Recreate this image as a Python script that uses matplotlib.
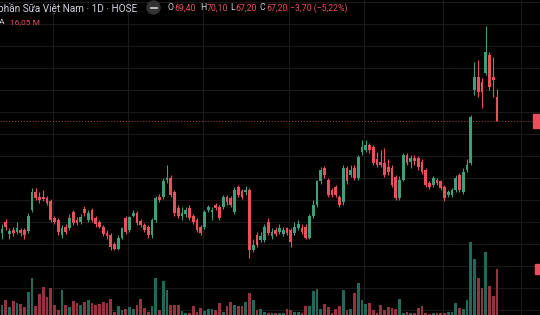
import numpy as np
import matplotlib.pyplot as plt
from matplotlib.patches import Ellipse, Rectangle
from matplotlib.lines import Line2D
from matplotlib.transforms import blended_transform_factory

# daily candles, Vinamilk (VNM) on HOSE
opens = [
    57.0, 58.0, 56.9, 57.3, 57.1, 57.3, 57.3, 57.2, 59.1, 60.7,
    60.3, 60.3, 60.2, 59.9, 58.4, 58.2, 56.8, 57.6, 57.5, 58.9,
    58.2, 58.0, 59.2, 58.2, 59.1, 58.4, 58.0, 57.6, 57.0, 56.8,
    56.0, 55.6, 56.6, 58.4, 57.3, 58.6, 58.8, 58.1, 57.7, 57.6,
    56.8, 58.2, 60.3, 60.3, 61.8, 62.0, 60.7, 59.3, 58.6, 58.7,
    59.3, 58.6, 58.2, 57.6, 57.6, 59.1, 58.9, 59.6, 59.4, 59.4,
    60.3, 60.2, 58.9, 61.2, 60.8, 60.7, 60.9, 55.5, 56.8, 56.4,
    56.4, 58.0, 56.7, 57.3, 57.1, 56.9, 57.5, 57.3, 57.0, 57.5,
    57.5, 57.6, 56.6, 58.6, 59.6, 61.7, 62.9, 61.8, 60.9, 61.2,
    60.3, 59.8, 62.9, 62.3, 62.9, 62.0, 64.4, 64.6, 65.0, 64.8,
    63.7, 63.5, 63.4, 63.0, 62.9, 62.1, 60.2, 61.8, 64.1, 63.5,
    63.8, 63.8, 63.5, 62.7, 61.6, 61.4, 61.8, 61.7, 61.2, 60.5,
    60.5, 60.9, 62.3, 60.7, 62.7, 63.4, 70.0, 71.2, 70.7, 71.6,
    73.2, 71.2, 69.4]
closes = [
    57.4, 57.6, 57.2, 57.0, 57.5, 57.0, 56.8, 58.6, 60.7, 60.2,
    60.0, 60.1, 59.7, 58.2, 58.0, 57.1, 57.5, 57.1, 58.4, 57.9,
    57.9, 58.5, 58.8, 58.8, 58.2, 57.8, 57.6, 56.9, 56.7, 55.7,
    55.6, 56.6, 57.5, 57.1, 58.5, 58.8, 57.9, 57.7, 57.3, 56.8,
    58.2, 60.2, 60.0, 61.7, 62.0, 60.5, 58.8, 58.6, 58.8, 59.1,
    58.4, 58.0, 57.3, 57.0, 58.9, 59.4, 59.1, 59.3, 58.4, 60.3,
    59.8, 59.6, 60.9, 60.5, 60.3, 60.9, 55.5, 55.9, 55.9, 56.7,
    57.6, 57.0, 57.1, 56.9, 57.5, 57.3, 57.0, 56.2, 57.6, 57.8,
    57.1, 56.6, 58.6, 59.6, 61.7, 62.7, 62.3, 60.5, 60.5, 60.5,
    59.6, 62.9, 61.7, 62.7, 62.0, 63.9, 64.8, 65.0, 64.6, 63.4,
    63.2, 63.2, 62.3, 62.6, 61.4, 60.2, 61.8, 64.1, 63.4, 63.8,
    63.6, 63.0, 62.6, 61.4, 61.2, 62.0, 61.6, 61.1, 60.2, 60.7,
    60.9, 62.0, 60.9, 62.6, 63.2, 67.6, 71.2, 69.8, 69.8, 73.5,
    70.3, 70.9, 67.2]
highs = [
    57.8, 58.3, 57.5, 57.6, 58.0, 57.5, 57.5, 58.8, 61.1, 61.1,
    60.7, 60.9, 60.4, 60.1, 58.6, 58.4, 57.7, 57.8, 58.7, 59.1,
    58.5, 58.7, 59.5, 59.1, 59.3, 58.6, 58.2, 57.7, 57.3, 57.0,
    56.2, 56.8, 57.6, 58.6, 58.6, 59.1, 59.0, 58.3, 57.9, 57.7,
    58.4, 60.4, 60.6, 62.0, 63.2, 62.3, 60.9, 59.6, 59.4, 59.4,
    59.6, 58.7, 58.4, 57.7, 59.1, 59.6, 59.4, 59.7, 59.6, 60.5,
    60.5, 60.4, 61.2, 61.4, 61.0, 61.3, 61.1, 56.5, 57.1, 57.1,
    57.8, 58.4, 57.5, 57.6, 57.8, 57.6, 57.6, 57.5, 58.0, 58.2,
    57.8, 57.8, 58.7, 60.0, 61.8, 63.0, 63.1, 62.0, 61.1, 61.4,
    60.5, 63.2, 63.1, 63.2, 63.2, 64.1, 65.5, 65.5, 65.2, 65.0,
    64.4, 64.6, 64.7, 63.7, 63.2, 62.3, 62.2, 64.3, 64.3, 64.1,
    64.1, 64.0, 63.7, 62.9, 61.7, 62.2, 62.0, 61.8, 61.4, 60.9,
    61.1, 62.3, 62.5, 62.9, 63.7, 67.7, 72.6, 72.7, 71.1, 75.8,
    73.5, 73.0, 70.1]
lows = [
    56.5, 57.3, 56.5, 56.7, 56.9, 56.7, 56.5, 57.0, 58.9, 60.0,
    59.7, 59.9, 59.6, 58.0, 57.8, 56.8, 56.6, 56.9, 57.3, 57.7,
    57.7, 57.8, 58.6, 58.0, 58.0, 57.6, 57.5, 56.7, 56.5, 55.5,
    55.5, 55.5, 56.5, 56.9, 57.1, 58.5, 57.7, 57.6, 57.1, 56.6,
    56.6, 58.0, 59.8, 60.1, 61.6, 60.3, 58.6, 58.4, 58.2, 58.5,
    58.2, 57.8, 57.1, 56.8, 57.4, 58.9, 58.2, 59.1, 58.2, 59.2,
    59.6, 59.4, 58.7, 60.3, 60.1, 60.5, 54.7, 55.3, 55.7, 56.2,
    56.2, 56.8, 56.5, 56.7, 56.9, 56.7, 56.8, 55.7, 56.8, 57.3,
    56.9, 56.5, 56.5, 58.4, 59.4, 61.5, 62.0, 60.3, 60.3, 60.3,
    59.4, 59.6, 61.5, 62.1, 61.8, 61.8, 64.1, 64.4, 64.3, 63.2,
    63.0, 63.0, 62.1, 62.3, 61.2, 60.0, 60.0, 61.7, 63.2, 62.9,
    63.2, 62.7, 62.4, 61.2, 61.0, 61.2, 61.4, 60.9, 59.9, 60.3,
    60.3, 60.7, 60.7, 60.6, 62.6, 63.2, 69.6, 69.4, 68.4, 71.4,
    70.0, 69.4, 67.2]
# volume, millions of shares
volumes = [
    3.5, 5.2, 2.8, 4.9, 4.2, 3.8, 2.8, 8.0, 12.9, 3.1,
    7.3, 9.8, 6.3, 9.4, 3.5, 1.7, 8.7, 3.5, 2.8, 4.9,
    4.2, 3.5, 4.5, 5.2, 4.2, 3.5, 3.8, 4.5, 4.2, 5.6,
    1.0, 3.1, 1.7, 2.1, 2.8, 2.1, 3.5, 5.6, 2.4, 1.0,
    3.1, 12.9, 1.7, 11.9, 8.7, 3.5, 3.5, 3.5, 1.4, 0.7,
    0.7, 3.1, 1.0, 2.4, 1.4, 2.1, 2.1, 1.7, 4.2, 1.0,
    3.1, 4.5, 3.5, 3.1, 3.1, 4.5, 7.7, 5.2, 1.7, 2.1,
    1.0, 0.7, 0.7, 0.7, 0.7, 0.7, 2.1, 1.7, 1.0, 1.0,
    0.7, 3.1, 3.1, 8.4, 9.1, 2.1, 3.8, 2.8, 0.7, 2.1,
    3.1, 8.7, 1.7, 2.1, 7.7, 11.2, 5.2, 3.8, 4.2, 1.7,
    0.7, 3.5, 1.7, 2.8, 2.4, 2.1, 5.6, 0.7, 1.0, 0.7,
    0.7, 2.4, 3.1, 0.7, 0.3, 0.7, 0.7, 0.7, 0.7, 1.0,
    1.0, 4.2, 2.4, 2.1, 5.2, 25.5, 19.5, 12.9, 9.4, 22.0,
    10.1, 6.6, 16.05]
month_starts = [14, 34, 54, 77, 97, 118, 139]

W, H = 540, 315
bg = '#000000'
grid_c = '#1b1b1b'
up_c, down_c = '#3f9f7b', '#ec4f5c'
up_vol, down_vol = '#21685a', '#96323f'
txt_c = '#d1d4dc'
fonts = ['Roboto', 'DejaVu Sans']

o = np.array(opens); c = np.array(closes)
hi = np.array(highs); lo = np.array(lows)
vol = np.array(volumes)
idx = np.arange(len(o))
is_up = c >= o

fig = plt.figure(figsize=(W / 100, H / 100), dpi=100, facecolor=bg)
axv = fig.add_axes([0, 0, 1, 1])
ax = fig.add_axes([0, 0, 1, 1], sharex=axv)
axv.set_facecolor(bg)
ax.patch.set_visible(False)
for a in (ax, axv):
    a.axis('off')

ax.set_xlim(-0.53, 143.47)
ax.set_ylim(49.56, 78.2)
axv.set_ylim(0, 110)

# grid sits behind volume
for p in range(50, 79, 2):
    axv.plot([-1, 145], [p, p], color=grid_c, lw=0.7, transform=ax.transData, zorder=0)
for m in month_starts:
    axv.axvline(m - 0.5, color=grid_c, lw=0.7, zorder=0)

axv.bar(idx, vol, width=0.78, color=np.where(is_up, up_vol, down_vol), linewidth=0, zorder=1)

cols = np.where(is_up, up_c, down_c)
ax.vlines(idx, lo, hi, colors=cols, lw=0.8, zorder=2)
body = np.maximum(np.abs(c - o), 0.08)
ax.bar(idx, body, bottom=np.minimum(o, c), width=0.74, color=cols, linewidth=0, zorder=3)

# last price line and right edge labels
ax.axhline(c[-1], color=down_c, lw=0.7, ls=(0, (1, 2)), alpha=0.8, zorder=1)
tr = blended_transform_factory(ax.transAxes, ax.transData)
ax.add_patch(Rectangle((0.987, c[-1] - 0.6), 0.02, 1.2, transform=tr, color=down_c, clip_on=False, zorder=4))
trv = blended_transform_factory(axv.transAxes, axv.transData)
axv.add_patch(Rectangle((0.99, vol[-1] - 1.9), 0.02, 3.8, transform=trv, color=down_c, clip_on=False, zorder=4))

def fx(x):
    return x / W

def fy(y):
    return 1 - y / H

fig.text(fx(-2), fy(8), 'phần Sữa Việt Nam · 1D · HOSE', color=txt_c, fontsize=7.2,
         va='center', ha='left', family=fonts)
fig.add_artist(Ellipse((fx(153.5), fy(7.5)), 13 / W, 13 / H, color='#333333', transform=fig.transFigure))
fig.add_artist(Line2D([fx(150.5), fx(156.5)], [fy(7.5), fy(7.5)], color=txt_c, lw=1.2, transform=fig.transFigure))

header = [('O', 168, txt_c), ('69,40', 174.5, down_c), ('H', 200, txt_c), ('70,10', 206.5, down_c),
          ('L', 230, txt_c), ('67,20', 235.5, down_c), ('C', 260, txt_c), ('67,20', 266.5, down_c),
          ('−3,70 (−5,22%)', 290, down_c)]
for s, x, col in header:
    fig.text(fx(x), fy(8), s, color=col, fontsize=6.3, va='center', ha='left', family=fonts)

fig.text(fx(-1), fy(22), 'A', color=txt_c, fontsize=6, va='center', ha='left', family=fonts)
fig.text(fx(10), fy(22), '16,05 M', color=down_c, fontsize=6, va='center', ha='left', family=fonts)

fig.savefig('out.png', dpi=100, facecolor=bg)
